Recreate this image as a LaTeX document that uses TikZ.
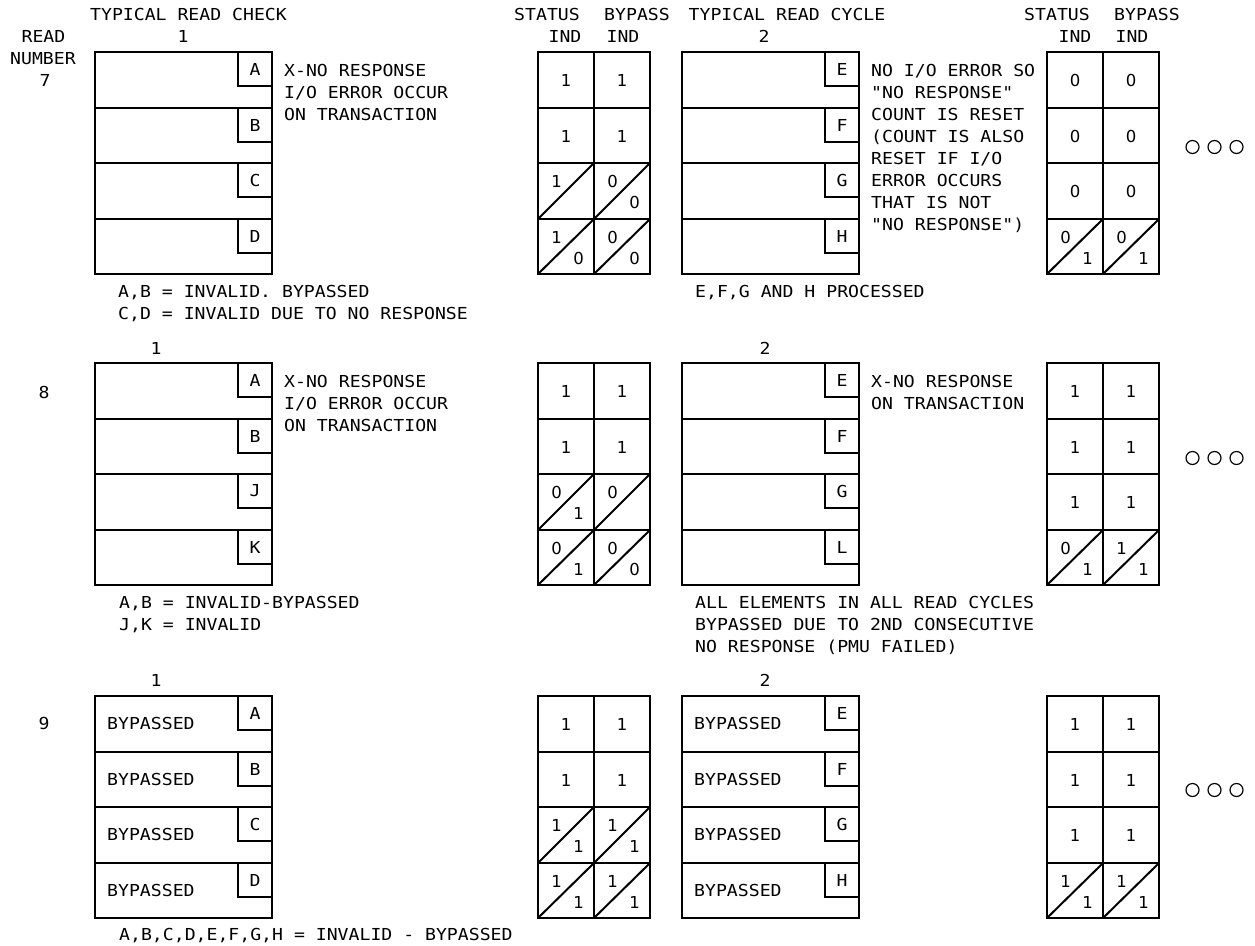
\documentclass[tikz,border=0pt]{standalone}
\usepackage{fontspec}
\newfontfamily\cadfont{DejaVu Sans Mono}[FakeStretch=1.1]
\newfontfamily\digfont{DejaVu Sans}
\tikzset{
  ln/.style={line width=2pt},
  txt/.style={font=\cadfont\fontsize{16.5}{22}\selectfont, inner sep=0pt},
  lt/.style={txt, anchor=base west},
  ct/.style={txt, anchor=base},
  dig/.style={font=\digfont\fontsize{16.5}{22}\selectfont, inner sep=0pt},
  ldot/.style={circle, draw, line width=1.2pt, minimum size=13pt, inner sep=0pt},
}
% read box: x-left, top, prefix, four labels
\newcommand\RB[7]{%
  \draw[ln] (#1,#2) rectangle ({#1+177},{#2+222});
  \foreach \k/\o/\lab in {0/0/#4,1/56/#5,2/111/#6,3/167/#7}{%
    \draw[ln] (#1,{#2+\o}) -- ({#1+177},{#2+\o});
    \draw[ln] ({#1+143},{#2+\o}) |- ({#1+177},{#2+\o+34});
    \node[txt] (#3\k) at ({#1+160},{#2+\o+17}) {\lab};
  }%
}
% BYPASSED texts: x, top, prefix
\newcommand\BP[3]{\foreach \k/\o in {0/0,1/56,2/111,3/167}{\node[lt] (#3\k) at (#1,{#2+\o+33.5}) {BYPASSED};}}
% table frame: x, top
\newcommand\TF[2]{%
  \draw[ln] (#1,#2) rectangle ({#1+112},{#2+222});
  \draw[ln] ({#1+56},#2) -- ({#1+56},{#2+222});
  \foreach \o in {56,111,167}{\draw[ln] (#1,{#2+\o}) -- ({#1+112},{#2+\o});}%
}
% plain cell: x, y, name, value
\newcommand\PC[4]{\node[dig] (#3) at ({#1+28},{#2+28.7}) {#4};}
% diagonal cell: x, y-top, y-bottom, name, top-left, bottom-right
\newcommand\DC[6]{%
  \draw[ln] (#1,#3) -- ({#1+56},#2);
  \node[dig] (#4a) at ({#1+18.5},{#2+18.5}) {#5};
  \node[dig] (#4b) at ({#1+40.5},{#2+39.5}) {#6};}
% dots: y centre, prefix
\newcommand\DT[2]{%
  \node[ldot] (#2a) at (1192.5,#1) {};
  \node[ldot] (#2b) at (1214.5,#1) {};
  \node[ldot] (#2c) at (1236.5,#1) {};}

\begin{document}
\begin{tikzpicture}[x=1pt,y=-1pt]
\useasboundingbox (0,0) rectangle (1255,945);

%%%%%%%% headers
\node[ct] (hchk) at (188.5,20) {TYPICAL READ CHECK};
\node[ct] (hcyc) at (787,20) {TYPICAL READ CYCLE};
\node[ct] (hread) at (43.5,42) {READ};
\node[ct] (hnum) at (43,64) {NUMBER};
\node[ct] (hst1) at (547,20) {STATUS};
\node[ct] (hsi1) at (565,42) {IND};
\node[ct] (hby1) at (637,20) {BYPASS};
\node[ct] (hbi1) at (623,42) {IND};
\node[ct] (hst2) at (1057,20) {STATUS};
\node[ct] (hsi2) at (1075,42) {IND};
\node[ct] (hby2) at (1147,20) {BYPASS};
\node[ct] (hbi2) at (1132,42) {IND};

%%%%%%%% row 7
\node[ct] (r7) at (45,86) {7};
\node[ct] (r7c1) at (183,42) {1};
\node[ct] (r7c2) at (764,42) {2};
\RB{95}{52}{r7a}{A}{B}{C}{D}
\RB{682}{52}{r7b}{E}{F}{G}{H}
\node[lt] (r7t1) at (284,76) {X-NO RESPONSE};
\node[lt] (r7t2) at (284,98) {I/O ERROR OCCUR};
\node[lt] (r7t3) at (284,120) {ON TRANSACTION};
\node[lt] (r7u1) at (871,76) {NO I/O ERROR SO};
\node[lt] (r7u2) at (871,98) {"NO RESPONSE"};
\node[lt] (r7u3) at (871,120) {COUNT IS RESET};
\node[lt] (r7u4) at (871,142) {(COUNT IS ALSO};
\node[lt] (r7u5) at (871,164) {RESET IF I/O};
\node[lt] (r7u6) at (871,186) {ERROR OCCURS};
\node[lt] (r7u7) at (871,208) {THAT IS NOT};
\node[lt] (r7u8) at (871,230) {"NO RESPONSE")};
\node[lt] (r7f1) at (118,297) {A,B = INVALID. BYPASSED};
\node[lt] (r7f2) at (118,319) {C,D = INVALID DUE TO NO RESPONSE};
\node[lt] (r7f3) at (695,297) {E,F,G AND H PROCESSED};
\TF{538}{52}
\PC{538}{52}{s7a11}{1} \PC{594}{52}{s7a12}{1}
\PC{538}{108}{s7a21}{1} \PC{594}{108}{s7a22}{1}
\DC{538}{163}{219}{s7a31}{1}{} \DC{594}{163}{219}{s7a32}{0}{0}
\DC{538}{219}{274}{s7a41}{1}{0} \DC{594}{219}{274}{s7a42}{0}{0}
\TF{1047}{52}
\PC{1047}{52}{s7b11}{0} \PC{1103}{52}{s7b12}{0}
\PC{1047}{108}{s7b21}{0} \PC{1103}{108}{s7b22}{0}
\PC{1047}{163}{s7b31}{0} \PC{1103}{163}{s7b32}{0}
\DC{1047}{219}{274}{s7b41}{0}{1} \DC{1103}{219}{274}{s7b42}{0}{1}
\DT{147}{d7}

%%%%%%%% row 8
\node[ct] (r8) at (44,398) {8};
\node[ct] (r8c1) at (156,354) {1};
\node[ct] (r8c2) at (765,354) {2};
\RB{95}{363}{r8a}{A}{B}{J}{K}
\RB{682}{363}{r8b}{E}{F}{G}{L}
\node[lt] (r8t1) at (284,387) {X-NO RESPONSE};
\node[lt] (r8t2) at (284,409) {I/O ERROR OCCUR};
\node[lt] (r8t3) at (284,431) {ON TRANSACTION};
\node[lt] (r8u1) at (871,387) {X-NO RESPONSE};
\node[lt] (r8u2) at (871,409) {ON TRANSACTION};
\node[lt] (r8f1) at (119,608) {A,B = INVALID-BYPASSED};
\node[lt] (r8f2) at (119,630) {J,K = INVALID};
\node[lt] (r8g1) at (695,608) {ALL ELEMENTS IN ALL READ CYCLES};
\node[lt] (r8g2) at (695,630) {BYPASSED DUE TO 2ND CONSECUTIVE};
\node[lt] (r8g3) at (695,652) {NO RESPONSE (PMU FAILED)};
\TF{538}{363}
\PC{538}{363}{s8a11}{1} \PC{594}{363}{s8a12}{1}
\PC{538}{419}{s8a21}{1} \PC{594}{419}{s8a22}{1}
\DC{538}{474}{530}{s8a31}{0}{1} \DC{594}{474}{530}{s8a32}{0}{}
\DC{538}{530}{585}{s8a41}{0}{1} \DC{594}{530}{585}{s8a42}{0}{0}
\TF{1047}{363}
\PC{1047}{363}{s8b11}{1} \PC{1103}{363}{s8b12}{1}
\PC{1047}{419}{s8b21}{1} \PC{1103}{419}{s8b22}{1}
\PC{1047}{474}{s8b31}{1} \PC{1103}{474}{s8b32}{1}
\DC{1047}{530}{585}{s8b41}{0}{1} \DC{1103}{530}{585}{s8b42}{1}{1}
\DT{458}{d8}

%%%%%%%% row 9
\node[ct] (r9) at (44,729) {9};
\node[ct] (r9c1) at (156,686) {1};
\node[ct] (r9c2) at (765,686) {2};
\RB{95}{696}{r9a}{A}{B}{C}{D}
\RB{682}{696}{r9b}{E}{F}{G}{H}
\BP{107}{696}{r9p}
\BP{694}{696}{r9q}
\node[lt] (r9f1) at (119,940) {A,B,C,D,E,F,G,H = INVALID - BYPASSED};
\TF{538}{696}
\PC{538}{696}{s9a11}{1} \PC{594}{696}{s9a12}{1}
\PC{538}{752}{s9a21}{1} \PC{594}{752}{s9a22}{1}
\DC{538}{807}{863}{s9a31}{1}{1} \DC{594}{807}{863}{s9a32}{1}{1}
\DC{538}{863}{918}{s9a41}{1}{1} \DC{594}{863}{918}{s9a42}{1}{1}
\TF{1047}{696}
\PC{1047}{696}{s9b11}{1} \PC{1103}{696}{s9b12}{1}
\PC{1047}{752}{s9b21}{1} \PC{1103}{752}{s9b22}{1}
\PC{1047}{807}{s9b31}{1} \PC{1103}{807}{s9b32}{1}
\DC{1047}{863}{918}{s9b41}{1}{1} \DC{1103}{863}{918}{s9b42}{1}{1}
\DT{790}{d9}
\end{tikzpicture}
\end{document}
